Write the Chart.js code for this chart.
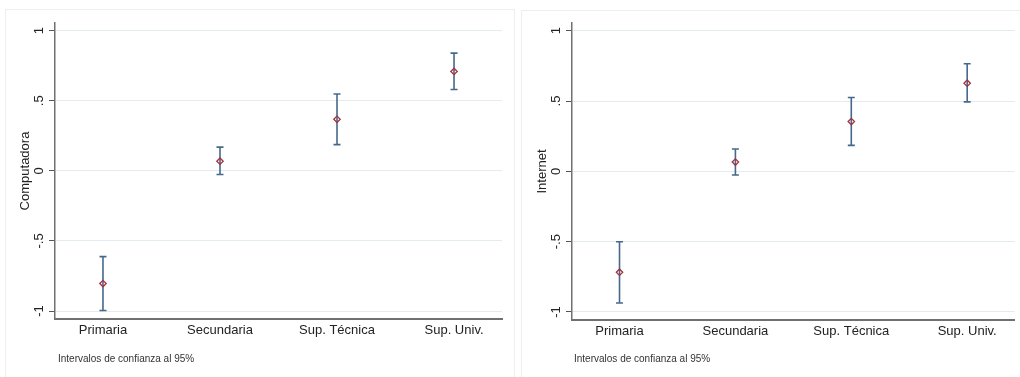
<!DOCTYPE html>
<html>
<head>
<meta charset="utf-8">
<script src="https://cdn.jsdelivr.net/npm/chart.js@4/dist/chart.umd.min.js"></script>
<style>
    body { margin: 0; background: #fff; width: 1020px; height: 377px; overflow: hidden; position: relative; font-family: "Liberation Sans", Arial, sans-serif; }
    .panel { position: absolute; border: 1px solid #eeeeee; border-bottom: none; }
    canvas { position: absolute; top: 0; }
    .note { position: absolute; top: 353px; font-size: 10px; color: #333; }
</style>
</head>
<body>
<div class="panel" style="left:5px; top:9px; width:508px; height:370px;"></div>
<div class="panel" style="left:521px; top:10px; width:505px; height:370px;"></div>
<canvas id="chartComputadora" width="512" height="377" style="left:0"></canvas>
<canvas id="chartInternet" width="508" height="377" style="left:512px"></canvas>
<div class="note" style="left:58px">Intervalos de confianza al 95%</div>
<div class="note" style="left:574px">Intervalos de confianza al 95%</div>
<script>
    const categories = ['Primaria', 'Secundaria', 'Sup. Técnica', 'Sup. Univ.'];

    const compMean = [-0.804, 0.069, 0.368, 0.709];
    const compLow = [-0.996, -0.026, 0.187, 0.581];
    const compHigh = [-0.612, 0.169, 0.548, 0.840];

    const netMean = [-0.717, 0.066, 0.354, 0.627];
    const netLow = [-0.936, -0.026, 0.185, 0.494];
    const netHigh = [-0.501, 0.159, 0.525, 0.765];

    const yTickValues = [-1, -0.5, 0, 0.5, 1];
    const yTickLabels = ['-1', '-.5', '0', '.5', '1'];

    const errorBars = {
        id: 'errorBars',
        beforeDatasetsDraw(chart) {
            const ctx = chart.ctx;
            const xs = chart.scales.x;
            const ys = chart.scales.y;
            const ds = chart.data.datasets[0];
            ctx.save();
            ctx.strokeStyle = '#46698b';
            ctx.lineWidth = 1.6;
            ds.low.forEach(function (lo, i) {
                const x = xs.getPixelForValue(i + 1);
                const y1 = ys.getPixelForValue(lo);
                const y2 = ys.getPixelForValue(ds.high[i]);
                ctx.beginPath();
                ctx.moveTo(x, y1);
                ctx.lineTo(x, y2);
                ctx.moveTo(x - 3.5, y1);
                ctx.lineTo(x + 3.5, y1);
                ctx.moveTo(x - 3.5, y2);
                ctx.lineTo(x + 3.5, y2);
                ctx.stroke();
            });
            ctx.restore();
        }
    };

    function renderChart(idElement, mean, low, high, yTitle, layout) {
        return new Chart(idElement, {
            type: 'scatter',
            data: {
                datasets: [{
                    data: mean.map(function (v, i) { return {x: i + 1, y: v}; }),
                    low: low,
                    high: high,
                    pointStyle: 'rectRot',
                    radius: 3.2,
                    borderWidth: 1.3,
                    borderColor: '#a3323f',
                    backgroundColor: 'rgba(0,0,0,0)'
                }]
            },
            plugins: [errorBars],
            options: {
                responsive: false,
                animation: false,
                devicePixelRatio: 1,
                layout: {
                    padding: {left: 0, top: layout.top, right: layout.right, bottom: layout.bottom}
                },
                plugins: {
                    legend: {display: false},
                    tooltip: {enabled: false}
                },
                scales: {
                    x: {
                        type: 'linear',
                        min: 0.59,
                        max: 4.41,
                        afterBuildTicks: function (scale) {
                            scale.ticks = categories.map(function (c, i) { return {value: i + 1}; });
                        },
                        afterFit: function (scale) { scale.height = 30; },
                        grid: {display: false, drawTicks: false},
                        border: {display: true, color: '#707070', width: 2},
                        ticks: {
                            padding: 4,
                            color: '#222',
                            font: {family: 'Liberation Sans', size: 13},
                            callback: function (value) { return categories[value - 1]; }
                        }
                    },
                    y: {
                        min: -1.057,
                        max: 1.055,
                        afterBuildTicks: function (scale) {
                            scale.ticks = yTickValues.map(function (v) { return {value: v}; });
                        },
                        afterFit: function (scale) { scale.width = layout.axisLeft; },
                        grid: {color: '#e3ebee', lineWidth: 1, tickColor: '#555', tickLength: 6},
                        border: {display: true, color: '#707070', width: 1.5},
                        ticks: {
                            padding: 2,
                            minRotation: 90,
                            maxRotation: 90,
                            crossAlign: 'center',
                            color: '#222',
                            font: {family: 'Liberation Sans', size: 13},
                            callback: function (value) {
                                return yTickLabels[yTickValues.indexOf(value)];
                            }
                        },
                        title: {
                            display: true,
                            text: yTitle,
                            color: '#222',
                            padding: {top: layout.titlePad, bottom: 0},
                            font: {family: 'Liberation Sans', size: 13}
                        }
                    }
                }
            }
        });
    }

    window.compChart = renderChart('chartComputadora', compMean, compLow, compHigh, 'Computadora',
        {top: 23, right: 10, bottom: 28, axisLeft: 55, titlePad: 18});
    window.netChart = renderChart('chartInternet', netMean, netLow, netHigh, 'Internet',
        {top: 23, right: 3, bottom: 27, axisLeft: 60, titlePad: 23});
</script>
</body>
</html>
